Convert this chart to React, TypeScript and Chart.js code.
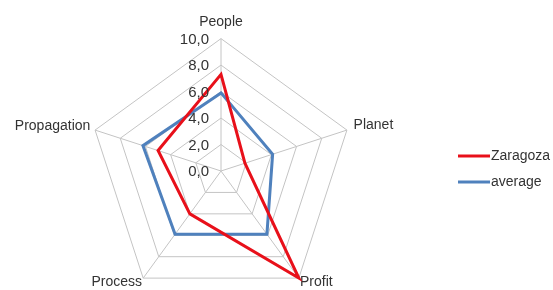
import React, { useEffect, useRef } from "react";
import { Chart, registerables } from "chart.js";

Chart.register(...registerables);

const CATEGORIES = ["People", "Planet", "Profit", "Process", "Propagation"];
const ZARAGOZA = [7.3, 1.9, 10.0, 4.0, 5.0];
const AVERAGE = [5.9, 4.1, 5.9, 5.9, 6.2];
const TICK_VALUES = [0, 2, 4, 6, 8, 10];
const TICK_LABELS = ["0,0", "2,0", "4,0", "6,0", "8,0", "10,0"];
const SERIES_NAMES = ["Zaragoza", "average"];
const COLORS = ["#e8101a", "#4f81bd"];
const LABEL_PADDING = [14, 7, 2, 2, 5];

const FONT = "'Liberation Sans', Arial, sans-serif";
const TEXT_COLOR = "#333333";

// The canvas is a little larger than the visible 553x290 frame and shifted
// left, so the radar can be as large as in the reference.
const SHIFT_X = 20;
const CANVAS_W = 573;
const CANVAS_H = 314;

const tickPlugin = {
  id: "commaTicks",
  afterDatasetsDraw(chart: any) {
    const s = chart.scales.r;
    const ctx = chart.ctx;
    ctx.save();
    ctx.font = `15px ${FONT}`;
    ctx.fillStyle = TEXT_COLOR;
    ctx.textAlign = "right";
    ctx.textBaseline = "middle";
    TICK_VALUES.forEach((v, i) => {
      const y = s.yCenter - s.getDistanceFromCenterForValue(v);
      ctx.fillText(TICK_LABELS[i], s.xCenter - 12, y + 1);
    });
    ctx.restore();
  },
};

const legendPlugin = {
  id: "sideLegend",
  afterDraw(chart: any) {
    const ctx = chart.ctx;
    ctx.save();
    ctx.font = `14px ${FONT}`;
    ctx.textAlign = "left";
    ctx.textBaseline = "middle";
    SERIES_NAMES.forEach((name, i) => {
      const y = 156 + i * 26;
      ctx.strokeStyle = COLORS[i];
      ctx.lineWidth = 3;
      ctx.beginPath();
      ctx.moveTo(458 + SHIFT_X, y);
      ctx.lineTo(490 + SHIFT_X, y);
      ctx.stroke();
      ctx.fillStyle = TEXT_COLOR;
      ctx.fillText(name, 491 + SHIFT_X, y);
    });
    ctx.restore();
  },
};

export default function App() {
  const ref = useRef<HTMLCanvasElement | null>(null);

  useEffect(() => {
    document.body.style.margin = "0";
    if (!ref.current) return;
    const chart = new Chart(ref.current, {
      type: "radar",
      data: {
        labels: CATEGORIES,
        datasets: [
          {
            label: SERIES_NAMES[0],
            data: ZARAGOZA,
            borderColor: COLORS[0],
            backgroundColor: "transparent",
            borderWidth: 3,
            pointRadius: 0,
            pointHoverRadius: 0,
            fill: false,
            tension: 0,
          },
          {
            label: SERIES_NAMES[1],
            data: AVERAGE,
            borderColor: COLORS[1],
            backgroundColor: "transparent",
            borderWidth: 3,
            pointRadius: 0,
            pointHoverRadius: 0,
            fill: false,
            tension: 0,
          },
        ],
      },
      options: {
        responsive: false,
        animation: false,
        layout: { padding: { top: 10, bottom: 0, left: 0, right: 91 } },
        plugins: {
          legend: { display: false },
          tooltip: { enabled: false },
        },
        scales: {
          r: {
            min: 0,
            max: 10,
            ticks: { display: false, stepSize: 2 },
            grid: { color: "#c4c4c4", lineWidth: 1 },
            angleLines: { color: "#c4c4c4", lineWidth: 1 },
            pointLabels: {
              color: TEXT_COLOR,
              font: { family: FONT, size: 14, lineHeight: 0.4 },
              padding: (c: any) => LABEL_PADDING[c.index],
            },
          },
        },
      },
      plugins: [tickPlugin, legendPlugin],
    });
    return () => chart.destroy();
  }, []);

  return (
    <div style={{ position: "relative", width: 553, height: 290, overflow: "hidden", background: "#fff" }}>
      <canvas
        ref={ref}
        width={CANVAS_W}
        height={CANVAS_H}
        style={{ display: "block", position: "absolute", left: -SHIFT_X, top: 0 }}
      />
    </div>
  );
}
